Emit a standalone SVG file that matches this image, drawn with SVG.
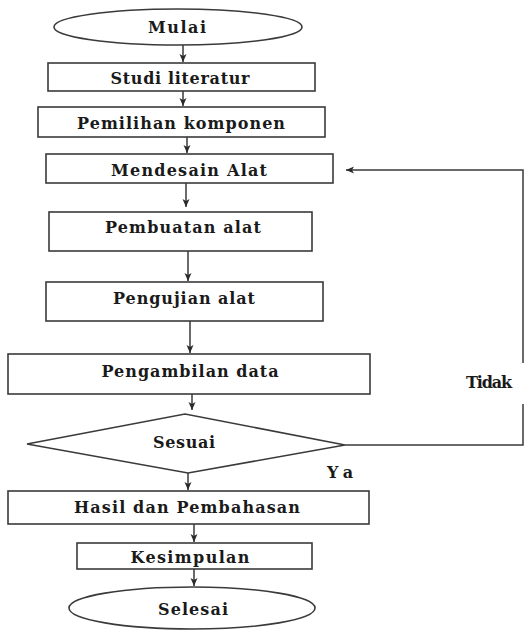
<svg xmlns="http://www.w3.org/2000/svg" width="525" height="630" viewBox="0 0 525 630">
<style>
.shape{fill:#fff;stroke:#3a3a3a;stroke-width:1.6}
.lbl{font-family:"DejaVu Serif","Liberation Serif",serif;font-weight:bold;font-size:16px;fill:#1a1a1a;text-anchor:middle;dominant-baseline:central}
.conn{fill:none;stroke:#3a3a3a;stroke-width:1.5}
</style>
<defs>
<marker id="ah" markerUnits="userSpaceOnUse" markerWidth="9" markerHeight="8" refX="8" refY="4" orient="auto">
<path d="M0,0.5 L8,4 L0,7.5 L2,4 z" fill="#2a2a2a"/>
</marker>
</defs>
<rect width="525" height="630" fill="#fff"/>
<g id="connectors">
<line class="conn" x1="183" y1="45" x2="183" y2="62" marker-end="url(#ah)"/>
<line class="conn" x1="183" y1="91" x2="183" y2="106" marker-end="url(#ah)"/>
<line class="conn" x1="187" y1="137" x2="187" y2="153" marker-end="url(#ah)"/>
<line class="conn" x1="186" y1="183" x2="186" y2="207" marker-end="url(#ah)"/>
<line class="conn" x1="188" y1="251" x2="188" y2="281" marker-end="url(#ah)"/>
<line class="conn" x1="190" y1="321" x2="190" y2="353" marker-end="url(#ah)"/>
<line class="conn" x1="192" y1="394" x2="192" y2="410" marker-end="url(#ah)"/>
<line class="conn" x1="188" y1="473" x2="188" y2="490" marker-end="url(#ah)"/>
<line class="conn" x1="194" y1="524" x2="194" y2="542" marker-end="url(#ah)"/>
<line class="conn" x1="194" y1="569" x2="194" y2="586" marker-end="url(#ah)"/>
<polyline class="conn" points="345,445 523,445 523,404"/>
<polyline class="conn" points="523,363 523,170 346,170" marker-end="url(#ah)"/>
<text class="lbl" x="489" y="382" textLength="46">Tidak</text>
<text class="lbl" x="340" y="472" textLength="26">Ya</text>
</g>
<g id="mulai">
<ellipse class="shape" cx="178" cy="27" rx="124" ry="18"/>
<text class="lbl" x="177" y="27" textLength="58">Mulai</text>
</g>
<g id="studi">
<rect class="shape" x="48" y="63" width="267" height="28"/>
<text class="lbl" x="180" y="78" textLength="139">Studi literatur</text>
</g>
<g id="pemilihan">
<rect class="shape" x="38" y="107" width="287" height="30"/>
<text class="lbl" x="181" y="123" textLength="208">Pemilihan komponen</text>
</g>
<g id="mendesain">
<rect class="shape" x="46" y="154" width="287" height="29"/>
<text class="lbl" x="189" y="170" textLength="156">Mendesain Alat</text>
</g>
<g id="pembuatan">
<rect class="shape" x="49" y="212" width="263" height="39"/>
<text class="lbl" x="183" y="227" textLength="156">Pembuatan alat</text>
</g>
<g id="pengujian">
<rect class="shape" x="46" y="282" width="277" height="39"/>
<text class="lbl" x="184" y="298" textLength="142">Pengujian alat</text>
</g>
<g id="pengambilan">
<rect class="shape" x="8" y="354" width="362" height="40"/>
<text class="lbl" x="190" y="371" textLength="177">Pengambilan data</text>
</g>
<g id="sesuai">
<polygon class="shape" points="27,444 185,414 345,445 188,473"/>
<text class="lbl" x="184" y="442" textLength="62">Sesuai</text>
</g>
<g id="hasil">
<rect class="shape" x="8" y="491" width="361" height="33"/>
<text class="lbl" x="187" y="507" textLength="226">Hasil dan Pembahasan</text>
</g>
<g id="kesimpulan">
<rect class="shape" x="77" y="543" width="235" height="26"/>
<text class="lbl" x="190" y="557" textLength="119">Kesimpulan</text>
</g>
<g id="selesai">
<ellipse class="shape" cx="192" cy="608" rx="123" ry="21"/>
<text class="lbl" x="193" y="609" textLength="70">Selesai</text>
</g>
</svg>
